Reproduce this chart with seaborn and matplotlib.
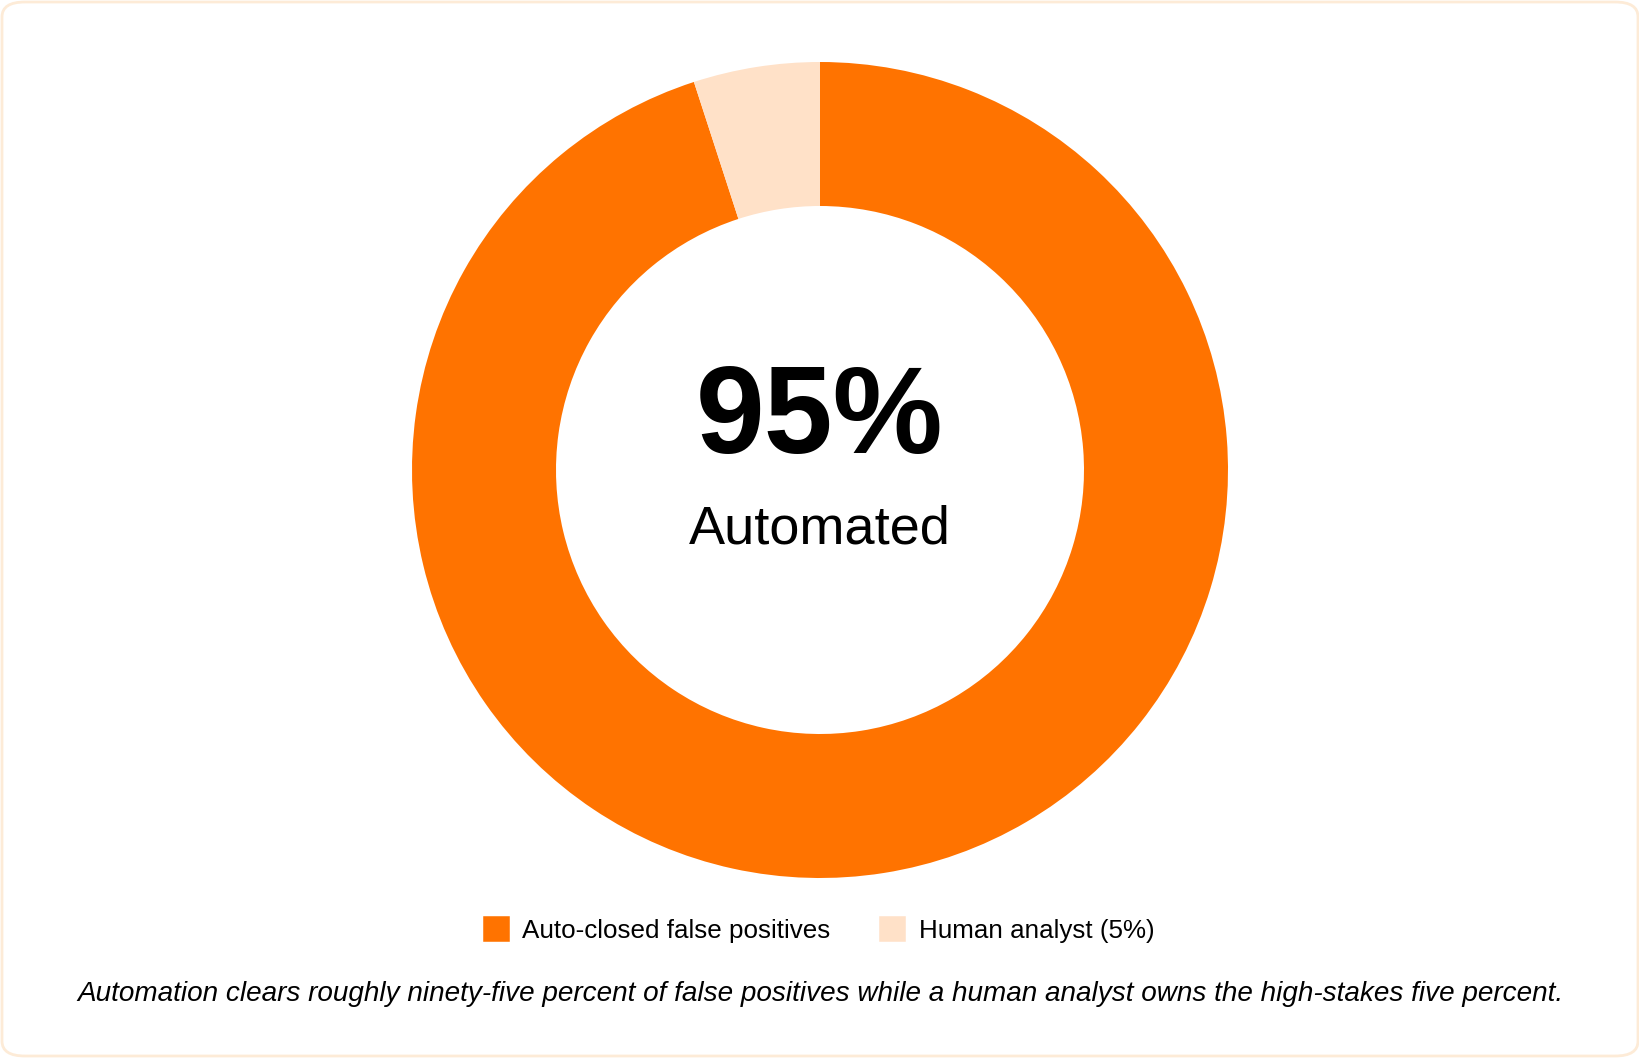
import matplotlib
matplotlib.use("Agg")
import matplotlib.pyplot as plt
import seaborn as sns
from matplotlib.patches import Patch, FancyBboxPatch

sns.set_theme(style="white")
plt.rcParams['font.family'] = ['Liberation Sans', 'DejaVu Sans']

labels = ["Auto-closed false positives", "Human analyst (5%)"]
values = [95, 5]
colors = ["#FF7300", "#FFE1C8"]
center_value = "95%"
center_label = "Automated"
caption = ("Automation clears roughly ninety-five percent of false positives "
           "while a human analyst owns the high-stakes five percent.")

W, H = 1640, 1058
fig = plt.figure(figsize=(W / 100, H / 100), dpi=100)
fig.patch.set_facecolor("white")

# rounded border
fig.patches.append(FancyBboxPatch((2 / W, 2 / H), 1 - 4 / W, 1 - 4 / H,
                                  boxstyle="round,pad=0,rounding_size=0.014",
                                  transform=fig.transFigure, facecolor="none",
                                  edgecolor="#FDEBD7", linewidth=2))

cx, cy, R = 820, 470, 408
ax = fig.add_axes([(cx - R) / W, (H - cy - R) / H, 2 * R / W, 2 * R / H])
ax.pie(values, colors=colors, startangle=90, counterclock=False, radius=1,
       wedgeprops=dict(width=1 - 264 / 408, linewidth=0))
ax.set_xlim(-1, 1)
ax.set_ylim(-1, 1)
ax.set_aspect("equal")
ax.axis("off")

fig.text(0.5, 1 - 420.5 / H, center_value, ha="center", va="center",
         fontsize=89, fontweight="bold", color="#000000")
fig.text(0.5, 1 - 530 / H, center_label, ha="center", va="center",
         fontsize=39, color="#000000")

handles = [Patch(facecolor=c, edgecolor=c, linewidth=4, joinstyle="round") for c in colors]
fig.legend(handles, labels, loc="center", bbox_to_anchor=(0.5, 1 - 931 / H),
           ncol=2, frameon=False, fontsize=18.7, handlelength=0.8, handleheight=0.8,
           handletextpad=0.6, columnspacing=2.0, labelcolor="#000000")

fig.text(0.5, 1 - 994 / H, caption, ha="center", va="center",
         fontsize=20.1, style="italic", color="#000000")

fig.savefig("out.png", dpi=100, facecolor="white")
